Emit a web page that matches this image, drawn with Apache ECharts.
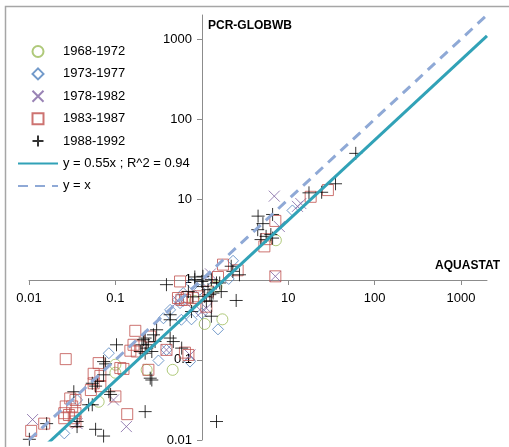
<!DOCTYPE html>
<html>
<head>
<meta charset="utf-8">
<script src="https://cdn.jsdelivr.net/npm/echarts@6/dist/echarts.min.js"></script>
<style>
  html, body { margin: 0; padding: 0; background: #fff; }
  #chart { width: 509px; height: 447px; }
</style>
</head>
<body>
<div id="chart"></div>
<script>
// axis ticks (log scale, both axes cross at 1)
var tickValues = [0.01, 0.1, 1, 10, 100, 1000];
var xLabelValues = [0.01, 0.1, 10, 100, 1000];

// [AQUASTAT, PCR-GLOBWB] pairs
var p1968 = [[1.48, 0.82], [0.83, 0.54], [1.08, 0.28], [1.73, 0.32], [7.2, 3.1],
  [0.23, 0.075], [0.46, 0.075], [0.1, 0.087], [0.1, 0.069], [0.064, 0.03]];

var p1973 = [[11.2, 7.3], [2.3, 1.72], [2.05, 1.02], [0.76, 0.89], [0.61, 0.68],
  [1.54, 0.24], [0.56, 0.51], [0.58, 0.316], [0.315, 0.098], [0.73, 0.095],
  [0.084, 0.121], [0.0256, 0.0121], [0.036, 0.0316], [1.13, 0.95], [0.95, 0.75],
  [0.53, 0.56], [0.43, 0.42], [1.0, 0.38], [0.36, 0.33], [0.76, 0.32], [0.39, 0.133]];

var p1978 = [[6.9, 11.0], [14.0, 8.9], [12.8, 8.2], [7.9, 4.6], [7.1, 1.1],
  [1.26, 1.18], [1.13, 0.44], [1.0, 0.4], [0.39, 0.133], [0.73, 0.115],
  [0.095, 0.0316], [0.134, 0.0147], [0.011, 0.018], [0.036, 0.016], [0.53, 0.54],
  [0.76, 0.44]];

var p1983 = [[28.8, 13.1], [18.2, 10.8], [7.1, 5.4], [5.55, 3.2], [5.3, 2.6],
  [2.6, 1.31], [7.1, 1.1], [1.76, 1.54], [1.54, 1.08], [0.56, 0.95], [0.67, 0.61],
  [0.91, 0.62], [1.18, 0.71], [0.53, 0.59], [1.13, 0.46], [0.58, 0.56], [0.17, 0.23],
  [0.162, 0.154], [0.149, 0.13], [0.177, 0.127], [0.194, 0.147], [0.253, 0.195],
  [0.39, 0.133], [0.638, 0.123], [0.7, 0.115], [0.0266, 0.102], [0.064, 0.091],
  [0.056, 0.067], [0.067, 0.063], [0.124, 0.077], [0.114, 0.079], [0.241, 0.075],
  [0.056, 0.051], [0.067, 0.047], [0.052, 0.042], [0.1, 0.035], [0.137, 0.021],
  [0.0106, 0.013], [0.015, 0.016], [0.03, 0.033], [0.0345, 0.0316], [0.0266, 0.0262],
  [0.0316, 0.0262], [0.0256, 0.0216], [0.029, 0.0205], [0.0345, 0.0216],
  [0.0256, 0.0187], [0.033, 0.0187], [0.0345, 0.017], [0.79, 0.59], [0.64, 0.56]];

var p1988 = [[60.5, 37.6], [35.3, 15.7], [24.4, 12.3], [17.4, 12.1], [4.48, 6.2],
  [6.6, 6.5], [5.1, 5.0], [4.44, 4.2], [4.85, 3.16], [5.55, 3.47], [6.3, 3.65],
  [6.6, 3.3], [2.29, 1.27], [2.73, 1.15], [2.19, 1.47], [0.39, 0.866], [0.83, 1.0],
  [1.0, 0.95], [1.48, 0.91], [1.68, 0.71], [2.5, 0.55], [0.7, 0.71], [1.08, 0.62],
  [1.24, 0.65], [1.13, 0.54], [1.29, 0.54], [0.79, 0.61], [0.76, 0.4], [1.29, 0.35],
  [1.48, 0.017], [0.43, 0.365], [0.43, 0.316], [0.3, 0.237], [0.276, 0.205],
  [0.221, 0.187], [0.241, 0.154], [0.194, 0.127], [0.221, 0.121], [0.43, 0.187],
  [0.468, 0.169], [0.585, 0.14], [0.103, 0.154], [0.264, 0.056], [0.077, 0.089],
  [0.073, 0.065], [0.054, 0.051], [0.059, 0.047], [0.062, 0.054], [0.084, 0.04],
  [0.088, 0.037], [0.033, 0.04], [0.054, 0.0275], [0.049, 0.0275], [0.221, 0.0226],
  [0.059, 0.0136], [0.073, 0.0112], [0.036, 0.0147], [0.0101, 0.0102], [0.016, 0.016],
  [0.036, 0.017], [0.83, 1.08], [1.03, 1.1], [1.29, 1.0], [1.03, 0.82], [1.18, 0.75],
  [1.35, 0.68], [1.61, 0.91], [0.212, 0.178], [0.231, 0.14], [0.264, 0.127],
  [0.288, 0.169], [0.203, 0.154], [0.253, 0.059], [0.073, 0.095]];

// regression y = 0.55x and the 1:1 line, end points only
var fitLine = [[0.01, 0.0055], [2000, 1100]];
var oneToOne = [[0.01, 0.01], [2000, 2000]];

var FONT = "Liberation Sans";
var CROSS = "path://M0,0L10,10M10,0L0,10";
var PLUS = "path://M5,0L5,10M0,5L10,5";
var DIAMOND = "path://M5,0L10,5L5,10L0,5Z";
var SQUARE = "path://M0,0L10,0L10,10L0,10Z";

function scatter(name, data, symbol, size, color) {
  return {
    name: name,
    type: "scatter",
    data: data,
    symbol: symbol,
    symbolSize: size,
    itemStyle: { color: "rgba(0,0,0,0)", borderColor: color, borderWidth: 1 },
    emphasis: { disabled: true },
    z: 3
  };
}

function powLabel(skipOne) {
  return function (v) {
    var l = Math.log10(v);
    if (Math.abs(l - Math.round(l)) > 1e-6) return "";
    if (skipOne && Math.round(l) === 0) return "";
    return String(+v.toPrecision(3));
  };
}

var chart = echarts.init(document.getElementById("chart"));
chart.setOption({
  animation: false,
  textStyle: { fontFamily: FONT },
  grid: { left: 29, right: 22, top: 15, bottom: 7, outerBoundsMode: "none" },
  legend: {
    orient: "vertical",
    left: 17,
    top: 45,
    padding: 0,
    itemWidth: 40,
    itemHeight: 11,
    itemGap: 9.4,
    textStyle: { fontSize: 13, color: "#000", fontFamily: FONT },
    data: ["1968-1972", "1973-1977", "1978-1982", "1983-1987", "1988-1992",
      "y = 0.55x ; R^2 = 0.94", "y = x"]
  },
  xAxis: {
    type: "log",
    logBase: 10,
    min: 0.01,
    max: 2000,
    offset: -160,
    axisLine: { lineStyle: { color: "#8C8C8C", width: 1 } },
    axisTick: { length: 5, lineStyle: { color: "#8C8C8C" }, customValues: tickValues },
    axisLabel: { fontSize: 13, color: "#000", margin: 12, customValues: xLabelValues, formatter: powLabel(true) },
    splitLine: { show: false }
  },
  yAxis: {
    type: "log",
    logBase: 10,
    min: 0.01,
    max: 2000,
    offset: -173,
    axisLine: { lineStyle: { color: "#8C8C8C", width: 1 } },
    axisTick: { length: 5, lineStyle: { color: "#8C8C8C" }, customValues: tickValues },
    axisLabel: { fontSize: 13, color: "#000", margin: 10, customValues: tickValues, formatter: powLabel(false) },
    splitLine: { show: false }
  },
  graphic: [
    { type: "rect", shape: { x: 5.5, y: 6.5, width: 600, height: 600 },
      style: { fill: null, stroke: "#A6A6A6", lineWidth: 1.5 }, silent: true },
    { type: "text", left: 208, top: 20,
      style: { text: "PCR-GLOBWB", font: "bold 12px " + FONT, fill: "#000" } },
    { type: "text", right: 9, top: 260,
      style: { text: "AQUASTAT", font: "bold 12px " + FONT, fill: "#000" } }
  ],
  series: [
    scatter("1968-1972", p1968, "circle", 11, "#9BBB59"),
    scatter("1973-1977", p1973, DIAMOND, 11, "#4F81BD"),
    scatter("1978-1982", p1978, CROSS, 11, "#8064A2"),
    scatter("1983-1987", p1983, SQUARE, 11, "#C0504D"),
    scatter("1988-1992", p1988, PLUS, 13, "#000000"),
    {
      name: "y = 0.55x ; R^2 = 0.94",
      type: "line",
      data: fitLine,
      symbol: "none",
      clip: true,
      lineStyle: { color: "#31A2B7", width: 3 },
      itemStyle: { color: "rgba(0,0,0,0)" },
      z: 4
    },
    {
      name: "y = x",
      type: "line",
      data: oneToOne,
      symbol: "none",
      clip: true,
      lineStyle: { color: "#8FA9D6", width: 3, type: [10, 7] },
      itemStyle: { color: "rgba(0,0,0,0)" },
      z: 4
    }
  ]
});
</script>
</body>
</html>
